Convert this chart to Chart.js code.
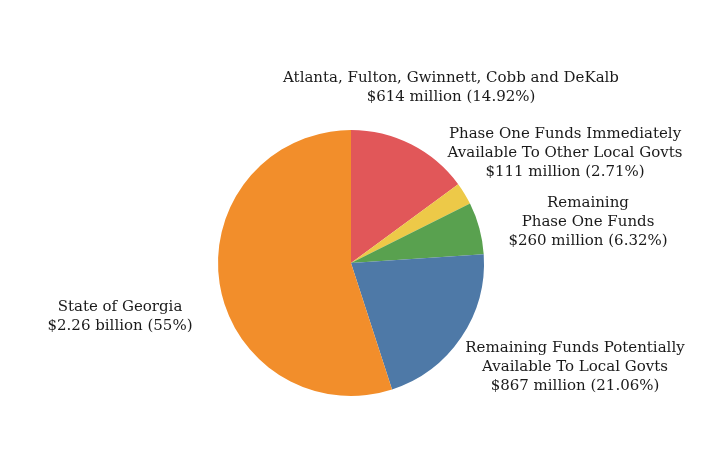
<!DOCTYPE html>
<html>
<head>
<meta charset="utf-8">
<script src="https://cdn.jsdelivr.net/npm/chart.js@4"></script>
<style>
  html, body { margin: 0; padding: 0; background: #fff; }
  #wrap { width: 702px; height: 468px; }
</style>
</head>
<body>
<div id="wrap"><canvas id="chart" width="702" height="468"></canvas></div>
<script>
var categories = [
    'Atlanta, Fulton, Gwinnett, Cobb and DeKalb',
    'Phase One Funds Immediately Available To Other Local Govts',
    'Remaining Phase One Funds',
    'Remaining Funds Potentially Available To Local Govts',
    'State of Georgia'
];
var shares = [14.92, 2.71, 6.32, 21.06, 55];
var amounts = ['$614 million', '$111 million', '$260 million', '$867 million', '$2.26 billion'];
var colors = ['#E15759', '#EDC948', '#59A14F', '#4E79A7', '#F28E2B'];

// label text lines, split the way the reference wraps them
var labelLines = [
    ['Atlanta, Fulton, Gwinnett, Cobb and DeKalb'],
    ['Phase One Funds Immediately', 'Available To Other Local Govts'],
    ['Remaining', 'Phase One Funds'],
    ['Remaining Funds Potentially', 'Available To Local Govts'],
    ['State of Georgia']
];
// label block centre offsets from pie centre (first line)
var labelOffsets = [
    [100, -185],
    [214, -129],
    [237, -60],
    [224, 85],
    [-231, 44]
];

var labelPlugin = {
    id: 'sliceLabels',
    afterDraw: function(chart) {
        var ctx = chart.ctx;
        var arc = chart.getDatasetMeta(0).data[0];
        var cx = arc.x, cy = arc.y;
        ctx.save();
        ctx.font = '15px "DejaVu Serif"';
        ctx.fillStyle = '#1a1a1a';
        ctx.textAlign = 'center';
        ctx.textBaseline = 'middle';
        labelLines.forEach(function(lines, i) {
            var all = lines.concat([amounts[i] + ' (' + shares[i] + '%)']);
            all.forEach(function(t, j) {
                ctx.fillText(t, cx + labelOffsets[i][0], cy + labelOffsets[i][1] + j * 19);
            });
        });
        ctx.restore();
    }
};

var ctx = document.getElementById('chart').getContext('2d');
new Chart(ctx, {
    type: 'pie',
    data: {
        labels: categories,
        datasets: [{
            data: shares,
            backgroundColor: colors,
            borderWidth: 0
        }]
    },
    options: {
        responsive: false,
        animation: false,
        layout: { padding: { top: 130, bottom: 72, left: 200, right: 200 } },
        plugins: {
            legend: { display: false },
            tooltip: { enabled: false }
        }
    },
    plugins: [labelPlugin]
});
</script>
</body>
</html>
